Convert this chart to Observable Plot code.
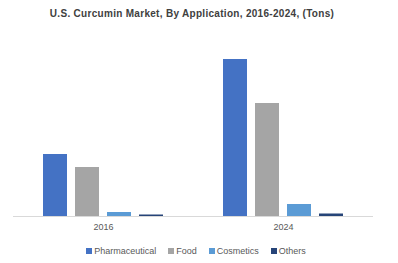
<!DOCTYPE html>
<html><head><meta charset="utf-8">
<script src="https://cdn.jsdelivr.net/npm/d3@7"></script>
<script src="https://cdn.jsdelivr.net/npm/@observablehq/plot@0.6"></script>
<style>
body{margin:0;background:#fff;font-family:"Liberation Sans",Arial,sans-serif;}
#wrap{width:398px;}
#title{height:28px;line-height:28px;text-align:center;font-weight:bold;font-size:10px;color:#404040;letter-spacing:0.3px;padding-right:14px;box-sizing:border-box;}
#legend{height:25px;display:flex;justify-content:center;align-items:center;gap:12px;font-size:9px;color:#595959;padding-right:6px;box-sizing:border-box;}
#legend span.sw{display:inline-block;width:6px;height:6px;margin-right:2px;vertical-align:middle;}
</style></head>
<body><div id="wrap"><div id="title"></div><div id="chart"></div><div id="legend"></div></div>
<script>
const title = "U.S. Curcumin Market, By Application, 2016-2024, (Tons)";
const years = ["2016", "2024"];
const applications = ["Pharmaceutical", "Food", "Cosmetics", "Others"];
const colors = ["#4472C4", "#A5A5A5", "#5B9BD5", "#264478"];
const values2016 = [620, 490, 40, 15];
const values2024 = [1570, 1130, 120, 25];

const data = [];
applications.forEach((a, i) => {
  data.push({year: years[0], app: a, value: values2016[i]});
  data.push({year: years[1], app: a, value: values2024[i]});
});

document.getElementById("title").textContent = title;

const chart = Plot.plot({
  width: 398, height: 210,
  marginLeft: 12, marginRight: 25, marginTop: 10, marginBottom: 22,
  style: {fontFamily: "Liberation Sans, Arial, sans-serif", background: "#fff"},
  fx: {domain: years, padding: 0, label: null},
  x: {domain: applications, paddingInner: 0.24, paddingOuter: 0.86, axis: null},
  y: {domain: [0, 1780], axis: null},
  color: {domain: applications, range: colors},
  marks: [
    Plot.ruleY([0], {stroke: "#d9d9d9", strokeWidth: 1}),
    Plot.barY(data, {fx: "year", x: "app", y: "value", fill: "app"}),
    Plot.axisFx({anchor: "bottom", tickSize: 0, tickPadding: 7, fontSize: 9, color: "#595959", label: null})
  ]
});
document.getElementById("chart").appendChild(chart);

const lg = document.getElementById("legend");
applications.forEach((a, i) => {
  const d = document.createElement("div");
  d.innerHTML = `<span class="sw" style="background:${colors[i]}"></span>${a}`;
  lg.appendChild(d);
});
</script></body></html>
